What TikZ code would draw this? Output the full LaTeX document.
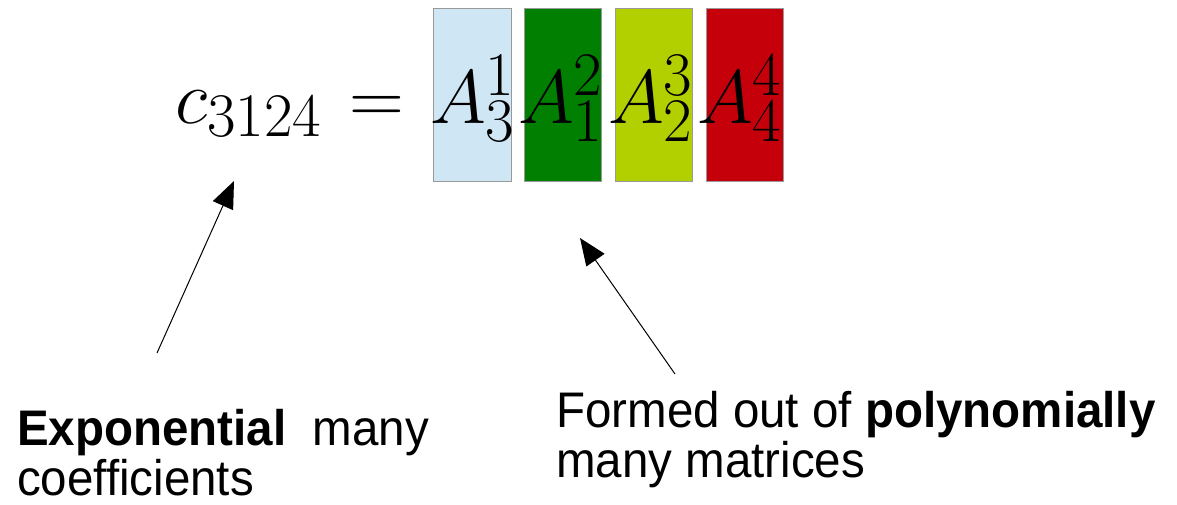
\RequirePackage{fix-cm}
\documentclass[tikz,border=0pt]{standalone}
\usepackage{fontspec}
\usetikzlibrary{arrows.meta}
\newfontfamily\labfont[FakeStretch=0.95]{Liberation Sans}
\DeclareMathSizes{76}{76}{62}{50}
\definecolor{boxA}{HTML}{CFE6F4}
\definecolor{boxB}{HTML}{007F00}
\definecolor{boxC}{HTML}{B2D000}
\definecolor{boxD}{HTML}{C5000B}
\definecolor{boxedge}{HTML}{999999}
\tikzset{
  matbox/.style={draw=boxedge, line width=1pt},
  pointer/.style={line width=1pt, -{Triangle[length=27pt,width=22pt]}},
  mathpart/.style={anchor=base west, inner sep=0pt, font=\fontsize{76}{80}\selectfont},
  label text/.style={anchor=base west, inner sep=0pt, align=left,
    font=\labfont\fontsize{50}{50}\selectfont},
}
\begin{document}
\begin{tikzpicture}[x=1pt,y=-1pt]
\useasboundingbox (0,0) rectangle (1177,504);
\fill[white] (0,0) rectangle (1177,504);
\filldraw[matbox, fill=boxA] (433,8) rectangle (511,181);
\filldraw[matbox, fill=boxB] (524,8) rectangle (601,181);
\filldraw[matbox, fill=boxC] (615,8) rectangle (692,181);
\filldraw[matbox, fill=boxD] (706,8) rectangle (783,181);
\node[mathpart] (coef) at (175,123) {$c_{3124}$};
\node[mathpart] (eqsign) at (349,123) {$=$};
\node[mathpart] (a1) at (430,123) {$A_3^1$};
\node[mathpart] (a2) at (518,123) {$A_1^2$};
\node[mathpart] (a3) at (608,123) {$A_2^3$};
\node[mathpart] (a4) at (697,123) {$A_4^4$};
\node[label text] (left) at (17,495) {\textbf{Exponential}\ \ many\\coefficients};
\node[label text] (right) at (556,477) {Formed out of \textbf{polynomially}\\many matrices};
\coordinate (t1) at (157,353);
\coordinate (h1) at (234,181);
\coordinate (t2) at (675,374);
\coordinate (h2) at (580,238);
\draw[pointer] (t1) -- (h1);
\draw[pointer] (t2) -- (h2);
\end{tikzpicture}
\end{document}
